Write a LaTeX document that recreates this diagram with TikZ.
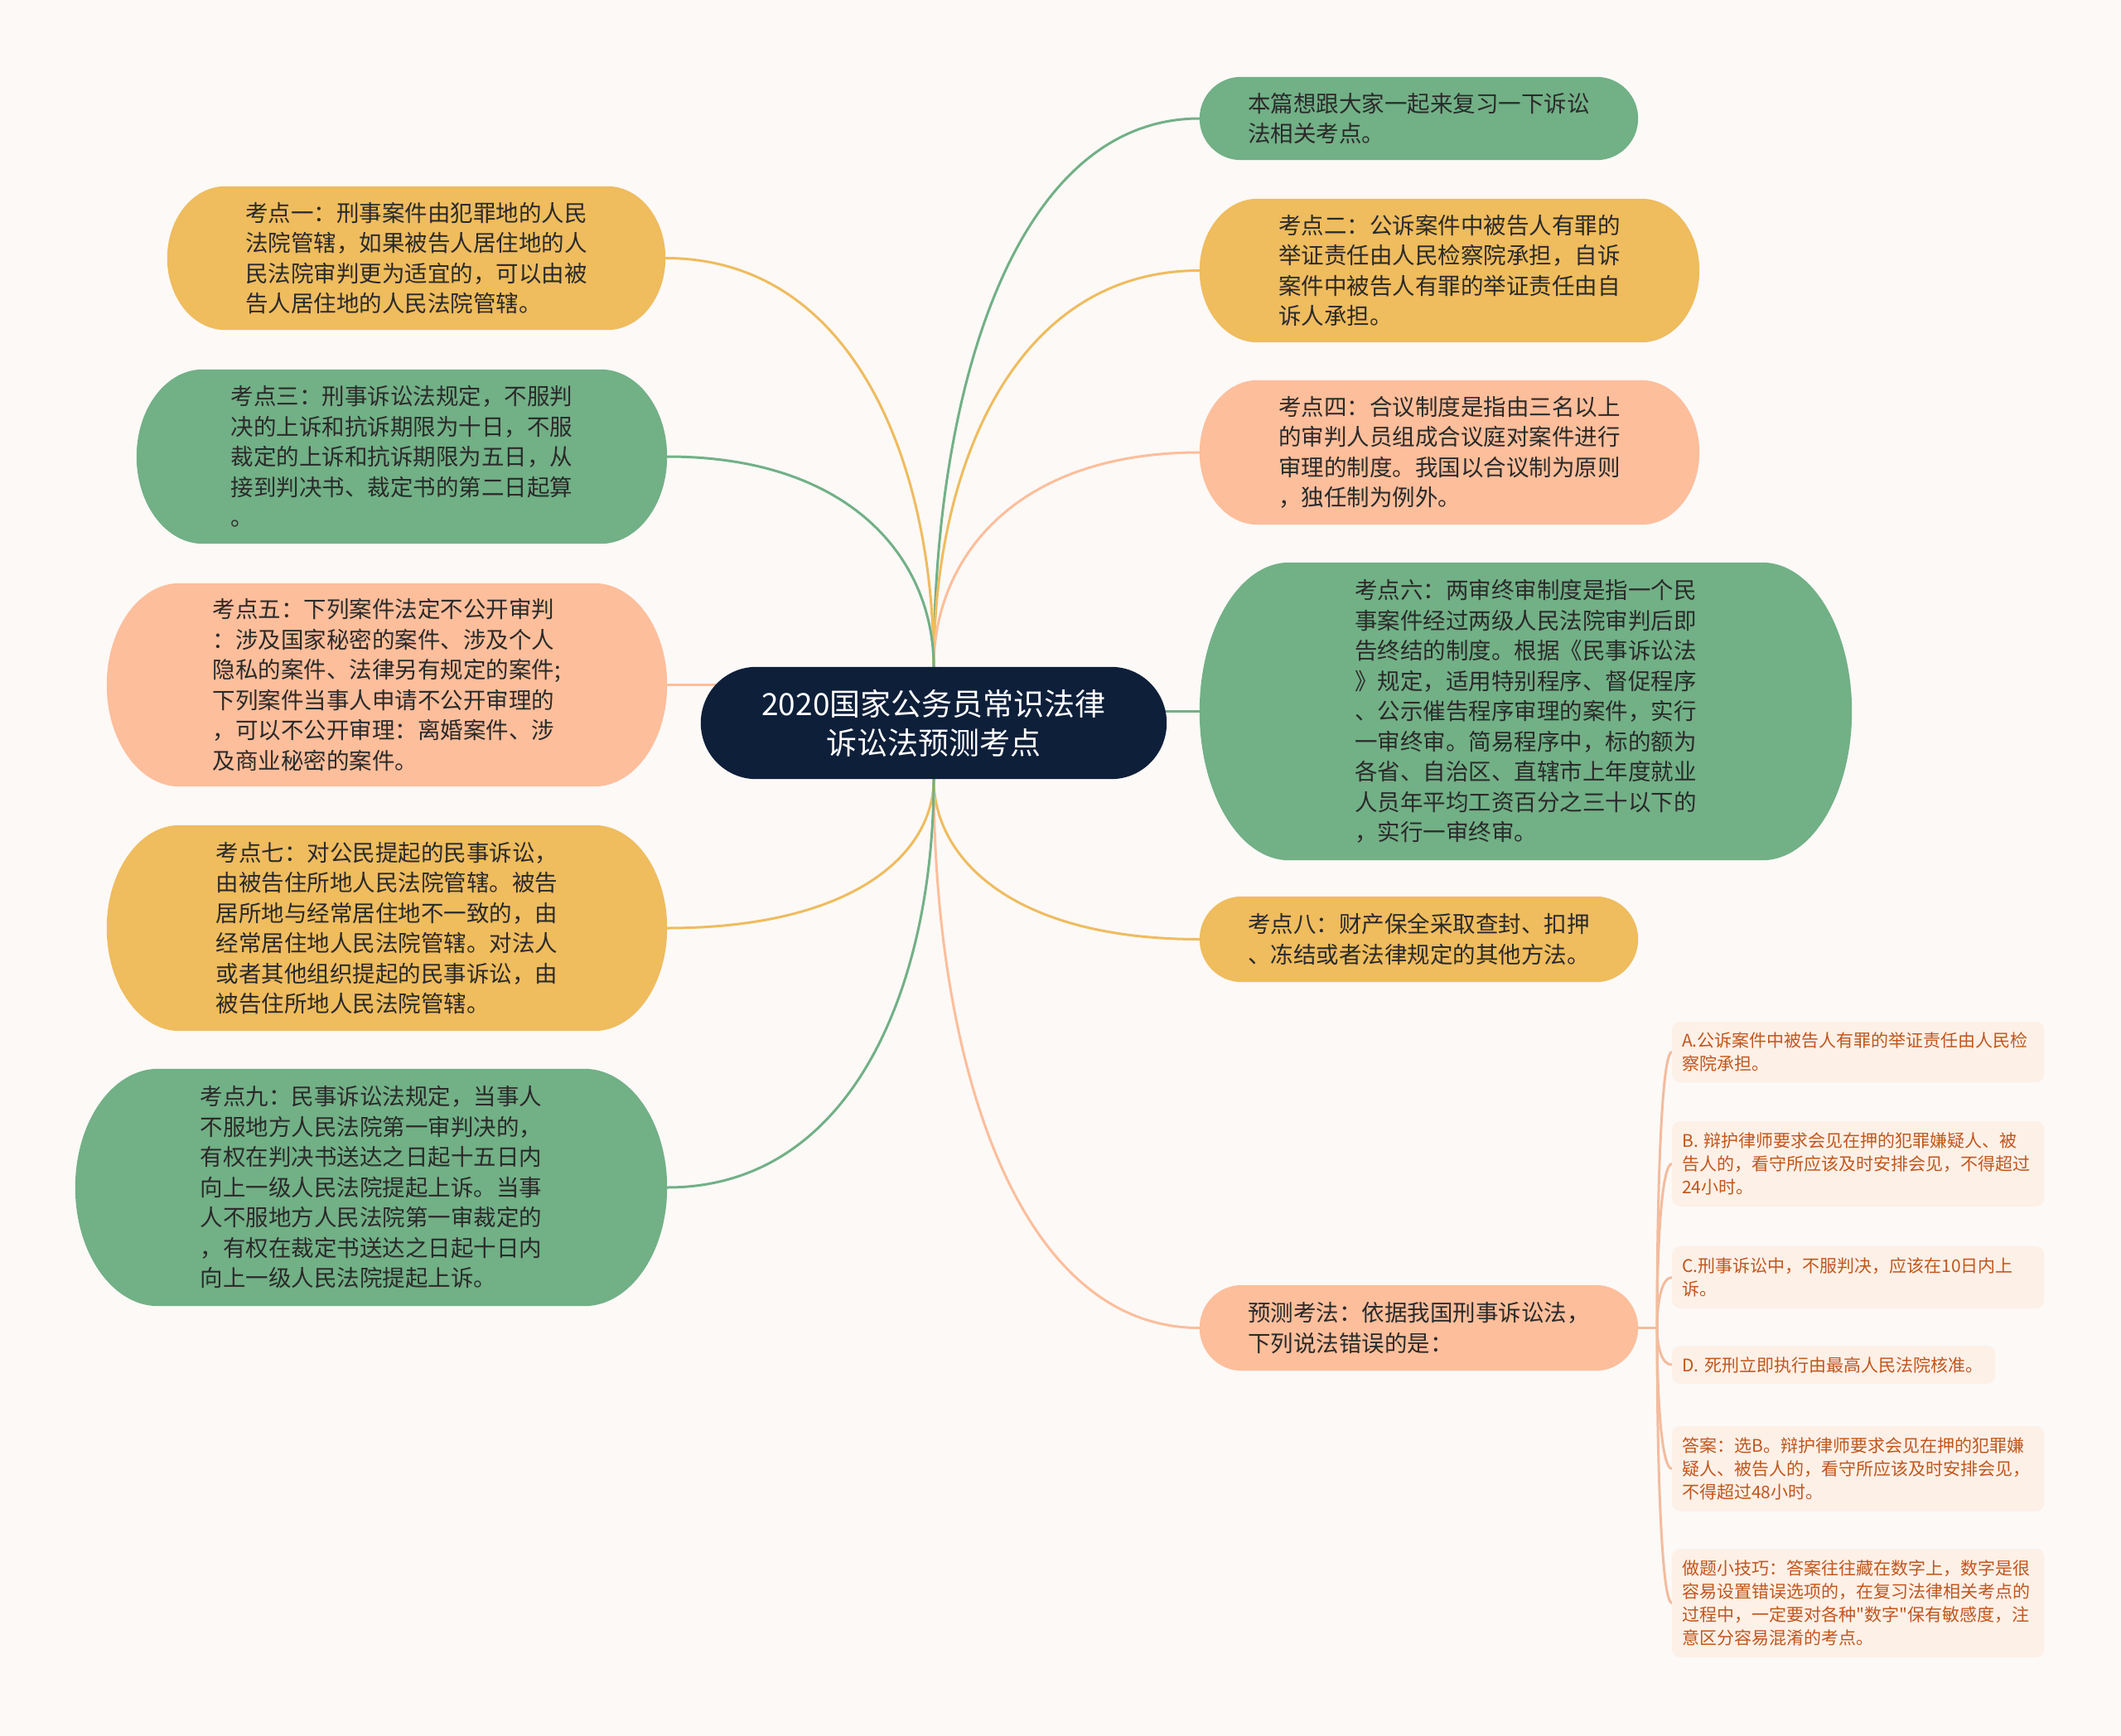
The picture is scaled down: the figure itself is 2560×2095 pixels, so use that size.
\documentclass[tikz,border=0pt]{standalone}
\usepackage{fontspec}
\newfontfamily\cjk{Noto Sans CJK SC}
\usetikzlibrary{calc,backgrounds}
\definecolor{bg}{HTML}{FCF9F7}
\definecolor{cgreen}{HTML}{72B086}
\definecolor{cyellow}{HTML}{EFBC5E}
\definecolor{csalmon}{HTML}{FDBE9B}
\definecolor{cnavy}{HTML}{0E1F3A}
\definecolor{ctext}{HTML}{2A2A2A}
\definecolor{subfill}{HTML}{FDF0E7}
\definecolor{subtext}{HTML}{C1561C}
\definecolor{sublink}{HTML}{F3BC9E}
\tikzset{
  mnode/.style={inner sep=0pt, align=left, text=ctext, font=\cjk\fontsize{27.5}{36.5}\selectfont},
  snode/.style={rounded corners=10pt, fill=subfill, inner xsep=12pt, inner ysep=0pt, align=left,
    text=subtext, font=\cjk\fontsize{21}{28}\selectfont, anchor=west},
  link/.style={line width=3pt},
}
\newcommand\stadium[3]{%
  \fill[#3] let \p1=(#1.north west), \p2=(#1.south east), \n1={(\y1-\y2)/2} in
  ({\x1+#2},\y1) -- ({\x2-#2},\y1)
  arc[start angle=90, end angle=-90, x radius=#2, y radius=\n1]
  -- ({\x1+#2},\y2)
  arc[start angle=270, end angle=90, x radius=#2, y radius=\n1] -- cycle;}
\newcommand\conn[3]{%
  \draw[link,#3] (#1) .. controls ($(#1)!0.5!(#1|-#2)$) and ($(#1|-#2)!0.3!(#2)$) .. (#2);}
\begin{document}
\begin{tikzpicture}[x=1pt,y=1pt]
\useasboundingbox (0,0) rectangle (2560,-2095);

% centre
\node[mnode, text=white, align=center, font=\cjk\fontsize{37}{47}\selectfont,
  minimum width=562pt, minimum height=135pt] (C) at (1127,-872.5)
  {2020国家公务员常识法律\\诉讼法预测考点};

% right side
\node[mnode, minimum width=529pt, minimum height=100pt] (R1) at (1712.5,-143)
  {本篇想跟大家一起来复习一下诉讼\\法相关考点。};
\node[mnode, minimum width=603pt, minimum height=173pt] (R2) at (1749.5,-326.5)
  {考点二：公诉案件中被告人有罪的\\举证责任由人民检察院承担，自诉\\案件中被告人有罪的举证责任由自\\诉人承担。};
\node[mnode, minimum width=603pt, minimum height=174pt] (R3) at (1749.5,-546)
  {考点四：合议制度是指由三名以上\\的审判人员组成合议庭对案件进行\\审理的制度。我国以合议制为原则\\，独任制为例外。};
\node[mnode, minimum width=787pt, minimum height=359pt] (R4) at (1841.5,-858.5)
  {考点六：两审终审制度是指一个民\\事案件经过两级人民法院审判后即\\告终结的制度。根据《民事诉讼法\\》规定，适用特别程序、督促程序\\、公示催告程序审理的案件，实行\\一审终审。简易程序中，标的额为\\各省、自治区、直辖市上年度就业\\人员年平均工资百分之三十以下的\\，实行一审终审。};
\node[mnode, minimum width=529pt, minimum height=103pt] (R5) at (1712.5,-1133.5)
  {考点八：财产保全采取查封、扣押\\、冻结或者法律规定的其他方法。};
\node[mnode, minimum width=529pt, minimum height=103pt] (R6) at (1712.5,-1602.5)
  {预测考法：依据我国刑事诉讼法，\\下列说法错误的是：};

% left side
\node[mnode, minimum width=601pt, minimum height=173pt] (L1) at (502.5,-311.5)
  {考点一：刑事案件由犯罪地的人民\\法院管辖，如果被告人居住地的人\\民法院审判更为适宜的，可以由被\\告人居住地的人民法院管辖。};
\node[mnode, minimum width=640pt, minimum height=210pt] (L2) at (485,-551)
  {考点三：刑事诉讼法规定，不服判\\决的上诉和抗诉期限为十日，不服\\裁定的上诉和抗诉期限为五日，从\\接到判决书、裁定书的第二日起算\\。};
\node[mnode, minimum width=676pt, minimum height=245pt] (L3) at (467,-826.5)
  {考点五：下列案件法定不公开审判\\：涉及国家秘密的案件、涉及个人\\隐私的案件、法律另有规定的案件;\\下列案件当事人申请不公开审理的\\，可以不公开审理：离婚案件、涉\\及商业秘密的案件。};
\node[mnode, minimum width=676pt, minimum height=248pt] (L4) at (467,-1120)
  {考点七：对公民提起的民事诉讼，\\由被告住所地人民法院管辖。被告\\居所地与经常居住地不一致的，由\\经常居住地人民法院管辖。对法人\\或者其他组织提起的民事诉讼，由\\被告住所地人民法院管辖。};
\node[mnode, minimum width=714pt, minimum height=286pt] (L5) at (448,-1433)
  {考点九：民事诉讼法规定，当事人\\不服地方人民法院第一审判决的，\\有权在判决书送达之日起十五日内\\向上一级人民法院提起上诉。当事\\人不服地方人民法院第一审裁定的\\，有权在裁定书送达之日起十日内\\向上一级人民法院提起上诉。};

% sub items
\node[snode, text width=425pt, minimum height=73pt] (SA) at (2018,-1269.5)
  {A.公诉案件中被告人有罪的举证责任由人民检\\察院承担。};
\node[snode, text width=425pt, minimum height=103pt] (SB) at (2018,-1404.5)
  {B. 辩护律师要求会见在押的犯罪嫌疑人、被\\告人的，看守所应该及时安排会见，不得超过\\24小时。};
\node[snode, text width=425pt, minimum height=75pt] (SC) at (2018,-1541.5)
  {C.刑事诉讼中，不服判决，应该在10日内上\\诉。};
\node[snode, text width=366pt, minimum height=46pt] (SD) at (2018,-1647)
  {D. 死刑立即执行由最高人民法院核准。};
\node[snode, text width=425pt, minimum height=103pt] (SE) at (2018,-1772.5)
  {答案：选B。辩护律师要求会见在押的犯罪嫌\\疑人、被告人的，看守所应该及时安排会见，\\不得超过48小时。};
\node[snode, text width=425pt, minimum height=131pt] (SF) at (2018,-1934.5)
  {做题小技巧：答案往往藏在数字上，数字是很\\容易设置错误选项的，在复习法律相关考点的\\过程中，一定要对各种"数字"保有敏感度，注\\意区分容易混淆的考点。};

\coordinate (sh) at (2000,-1602.5);

\begin{scope}[on background layer]
  \fill[bg] (0,0) rectangle (2560,-2095);
  % connectors
  \conn{C.north}{R1.west}{cgreen}
  \conn{C.north}{R2.west}{cyellow}
  \conn{C.north}{R3.west}{csalmon}
  \conn{C.north}{L1.east}{cyellow}
  \conn{C.north}{L2.east}{cgreen}
  \conn{C.south}{R5.west}{cyellow}
  \conn{C.south}{R6.west}{csalmon}
  \conn{C.south}{L4.east}{cyellow}
  \conn{C.south}{L5.east}{cgreen}
  \draw[link,cgreen] (R4.west) -- (R4.west -| C.center);
  \draw[link,csalmon] (L3.east) -- (L3.east -| C.center);
  \draw[link,sublink] (R6.east) -- (sh);
  \conn{sh}{SA.west}{sublink}
  \conn{sh}{SB.west}{sublink}
  \conn{sh}{SC.west}{sublink}
  \conn{sh}{SD.west}{sublink}
  \conn{sh}{SE.west}{sublink}
  \conn{sh}{SF.west}{sublink}
  % shapes
  \stadium{C}{67pt}{cnavy}
  \stadium{R1}{50pt}{cgreen}
  \stadium{R2}{70pt}{cyellow}
  \stadium{R3}{70pt}{csalmon}
  \stadium{R4}{108pt}{cgreen}
  \stadium{R5}{51pt}{cyellow}
  \stadium{R6}{51pt}{csalmon}
  \stadium{L1}{70pt}{cyellow}
  \stadium{L2}{80pt}{cgreen}
  \stadium{L3}{88pt}{csalmon}
  \stadium{L4}{88pt}{cyellow}
  \stadium{L5}{100pt}{cgreen}
\end{scope}
\end{tikzpicture}
\end{document}
